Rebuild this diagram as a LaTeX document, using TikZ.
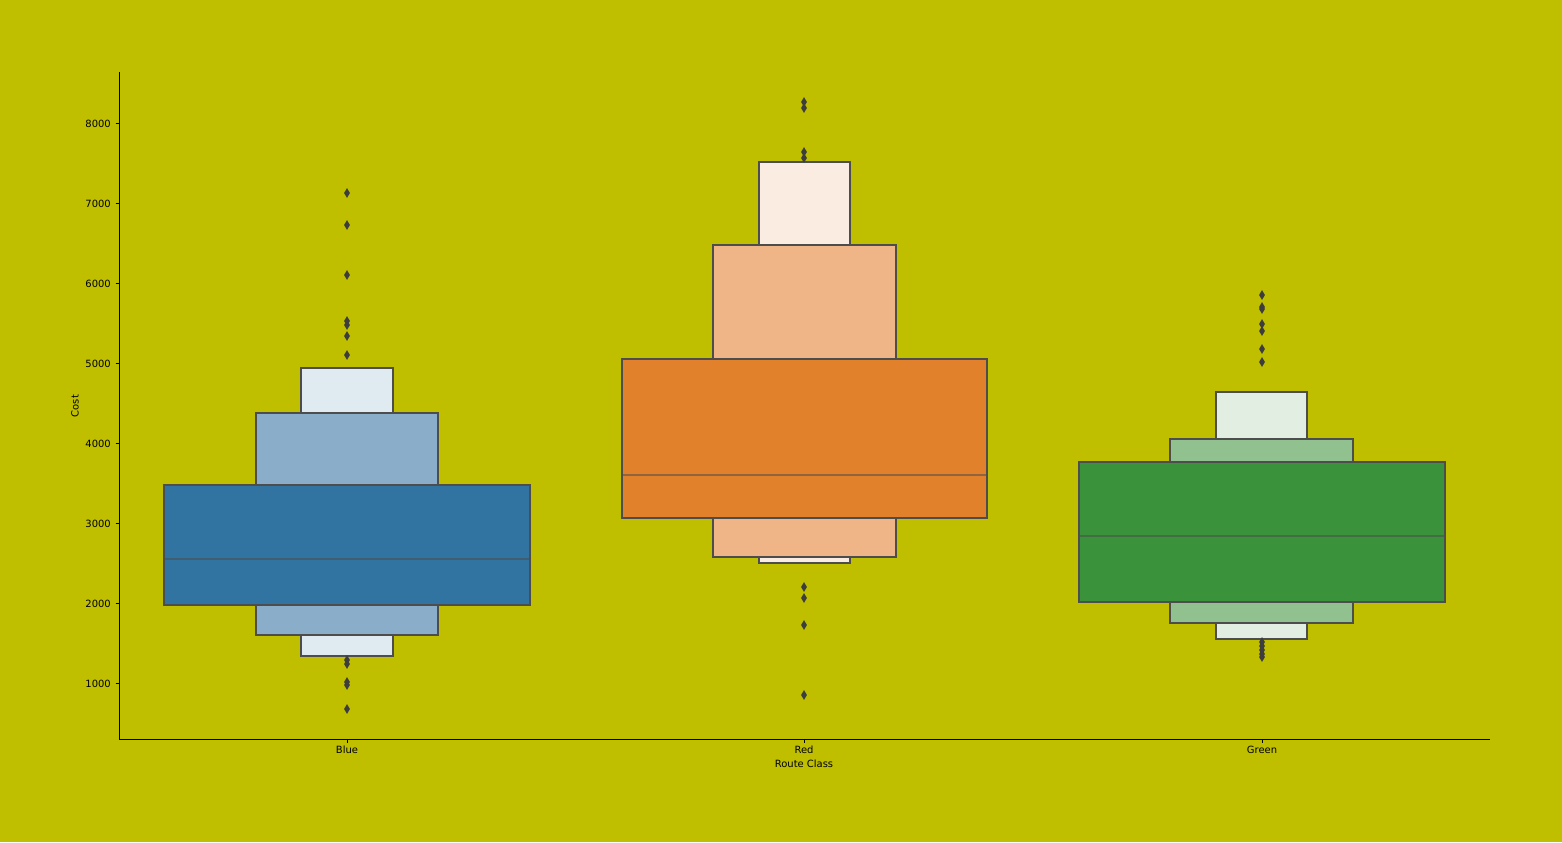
\documentclass[tikz,border=0pt]{standalone}
\usepackage{fontspec}
\setmainfont{DejaVu Sans}
\usepackage{tikz}
\usetikzlibrary{shapes}

\definecolor{olivebg}{RGB}{191,191,0}
\definecolor{edgegray}{RGB}{77,77,77}
\definecolor{outgray}{RGB}{61,61,61}
\definecolor{blueA}{RGB}{50,116,161}
\definecolor{blueB}{RGB}{138,174,201}
\definecolor{blueC}{RGB}{224,234,241}
\definecolor{redA}{RGB}{225,129,44}
\definecolor{redB}{RGB}{239,181,134}
\definecolor{redC}{RGB}{250,236,224}
\definecolor{greenA}{RGB}{58,146,58}
\definecolor{greenB}{RGB}{144,193,142}
\definecolor{greenC}{RGB}{227,238,226}

\begin{document}
\begin{tikzpicture}[x=1bp,y=1bp,
  box/.style={draw=edgegray,line width=1.4bp},
  median/.style={draw=edgegray,draw opacity=0.55,line width=1.4bp},
  outl/.style={diamond,fill=outgray,inner sep=0pt,minimum width=6bp,minimum height=10bp},
  spine/.style={black,line width=0.8bp},
  lbl/.style={font=\fontsize{10}{12}\selectfont,inner sep=0pt}]
\fill [olivebg] (0,0) rectangle (1562,-842);
\useasboundingbox (0,0) rectangle (1562,-842);
% Blue
\draw [box,fill=blueC] (301,-368) rectangle (393,-656);
\draw [box,fill=blueB] (256,-413) rectangle (438,-635);
\draw [box,fill=blueA] (164,-485) rectangle (530,-605);
\draw [median] (164,-559) -- (530,-559);
% Red
\draw [box,fill=redC] (759,-162) rectangle (850,-563);
\draw [box,fill=redB] (713,-245) rectangle (896,-557);
\draw [box,fill=redA] (622,-359) rectangle (987,-518);
\draw [median] (622,-475) -- (987,-475);
% Green
\draw [box,fill=greenC] (1216,-392) rectangle (1307,-639);
\draw [box,fill=greenB] (1170,-439) rectangle (1353,-623);
\draw [box,fill=greenA] (1079,-462) rectangle (1445,-602);
\draw [median] (1079,-536) -- (1445,-536);
% outliers
\node (bo1) [outl] at (347,-193) {};
\node (bo2) [outl] at (347,-225) {};
\node (bo3) [outl] at (347,-275) {};
\node (bo4) [outl] at (347,-321) {};
\node (bo5) [outl] at (347,-325) {};
\node (bo6) [outl] at (347,-336) {};
\node (bo7) [outl] at (347,-355) {};
\node (bo8) [outl] at (347,-660) {};
\node (bo9) [outl] at (347,-664) {};
\node (bo10) [outl] at (347,-682) {};
\node (bo11) [outl] at (347,-685) {};
\node (bo12) [outl] at (347,-709) {};
\node (ro1) [outl] at (804,-102) {};
\node (ro2) [outl] at (804,-108) {};
\node (ro3) [outl] at (804,-152) {};
\node (ro4) [outl] at (804,-158) {};
\node (ro5) [outl] at (804,-587) {};
\node (ro6) [outl] at (804,-598) {};
\node (ro7) [outl] at (804,-625) {};
\node (ro8) [outl] at (804,-695) {};
\node (go1) [outl] at (1262,-295) {};
\node (go2) [outl] at (1262,-307) {};
\node (go3) [outl] at (1262,-309) {};
\node (go4) [outl] at (1262,-324) {};
\node (go5) [outl] at (1262,-331) {};
\node (go6) [outl] at (1262,-349) {};
\node (go7) [outl] at (1262,-362) {};
\node (go8) [outl] at (1262,-642) {};
\node (go9) [outl] at (1262,-646) {};
\node (go10) [outl] at (1262,-650) {};
\node (go11) [outl] at (1262,-654) {};
\node (go12) [outl] at (1262,-657) {};
% axes
\draw [spine] (119,-72) -- (119,-739) -- (1490,-739);
\draw [spine] (115.5,-683.5) -- (119,-683.5);
\node (y1) [lbl,anchor=east] at (111,-683.5) {1000};
\draw [spine] (115.5,-603.5) -- (119,-603.5);
\node (y2) [lbl,anchor=east] at (111,-603.5) {2000};
\draw [spine] (115.5,-523.5) -- (119,-523.5);
\node (y3) [lbl,anchor=east] at (111,-523.5) {3000};
\draw [spine] (115.5,-443.5) -- (119,-443.5);
\node (y4) [lbl,anchor=east] at (111,-443.5) {4000};
\draw [spine] (115.5,-363.5) -- (119,-363.5);
\node (y5) [lbl,anchor=east] at (111,-363.5) {5000};
\draw [spine] (115.5,-283.5) -- (119,-283.5);
\node (y6) [lbl,anchor=east] at (111,-283.5) {6000};
\draw [spine] (115.5,-203.5) -- (119,-203.5);
\node (y7) [lbl,anchor=east] at (111,-203.5) {7000};
\draw [spine] (115.5,-123.5) -- (119,-123.5);
\node (y8) [lbl,anchor=east] at (111,-123.5) {8000};
\draw [spine] (347,-739) -- (347,-742.5);
\node (xb) [lbl] at (347,-750) {Blue};
\draw [spine] (804,-739) -- (804,-742.5);
\node (xr) [lbl] at (804,-750) {Red};
\draw [spine] (1262,-739) -- (1262,-742.5);
\node (xg) [lbl] at (1262,-750) {Green};
\node (xlab) [lbl] at (804,-764) {Route Class};
\node (ylab) [lbl,rotate=90] at (75,-406) {Cost};
\end{tikzpicture}
\end{document}
